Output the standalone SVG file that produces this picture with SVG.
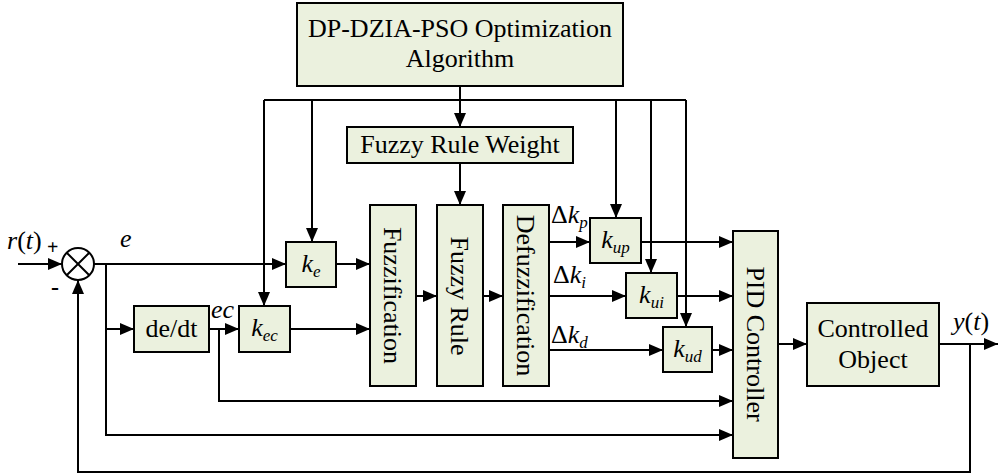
<svg xmlns="http://www.w3.org/2000/svg" width="998" height="476" viewBox="0 0 998 476">
<style>
.box{fill:#EBF1DE;stroke:#000;stroke-width:2}
.ln{fill:none;stroke:#000;stroke-width:2}
text{font-family:'Liberation Serif','Times New Roman',Tinos,'DejaVu Serif',serif;font-size:26px;fill:#000}
.i{font-style:italic}
.s{font-size:17px;font-style:italic}
</style>
<defs>
<marker id="ah" markerWidth="14" markerHeight="12" refX="14" refY="6" orient="auto" markerUnits="userSpaceOnUse">
<path d="M0,0 L14,6 L0,12 Z" fill="#000"/>
</marker>
</defs>
<g id="connectors">
<path class="ln" d="M460,86 V127" marker-end="url(#ah)"/>
<path class="ln" d="M264,100 H686"/>
<path class="ln" d="M312,100 V242" marker-end="url(#ah)"/>
<path class="ln" d="M264,100 V306" marker-end="url(#ah)"/>
<path class="ln" d="M460,163 V205" marker-end="url(#ah)"/>
<path class="ln" d="M616,100 V218" marker-end="url(#ah)"/>
<path class="ln" d="M651,100 V273" marker-end="url(#ah)"/>
<path class="ln" d="M686,100 V327" marker-end="url(#ah)"/>
<path class="ln" d="M18,264 H62" marker-end="url(#ah)"/>
<path class="ln" d="M94,264 H286" marker-end="url(#ah)"/>
<path class="ln" d="M106,264 V435 H733" marker-end="url(#ah)"/>
<path class="ln" d="M106,329 H134" marker-end="url(#ah)"/>
<path class="ln" d="M209,329 H239" marker-end="url(#ah)"/>
<path class="ln" d="M219,329 V401 H733" marker-end="url(#ah)"/>
<path class="ln" d="M336,264 H370" marker-end="url(#ah)"/>
<path class="ln" d="M290,329 H370" marker-end="url(#ah)"/>
<path class="ln" d="M416,296 H437" marker-end="url(#ah)"/>
<path class="ln" d="M483,296 H503" marker-end="url(#ah)"/>
<path class="ln" d="M549,242 H590" marker-end="url(#ah)"/>
<path class="ln" d="M549,296 H626" marker-end="url(#ah)"/>
<path class="ln" d="M549,350 H663" marker-end="url(#ah)"/>
<path class="ln" d="M641,242 H733" marker-end="url(#ah)"/>
<path class="ln" d="M677,296 H733" marker-end="url(#ah)"/>
<path class="ln" d="M712,350 H733" marker-end="url(#ah)"/>
<path class="ln" d="M778,344 H807" marker-end="url(#ah)"/>
<path class="ln" d="M939,344 H998" marker-end="url(#ah)"/>
<path class="ln" d="M970,344 V472 H78 V280" marker-end="url(#ah)"/>
</g>
<g id="sum">
<circle cx="78" cy="264" r="16" fill="#fff" stroke="#000" stroke-width="2"/>
<path class="ln" d="M66.7,252.7 L89.3,275.3 M89.3,252.7 L66.7,275.3"/>
<text x="47" y="254" style="font-size:20px;font-weight:bold">+</text>
<text x="51" y="295" style="font-size:24px;font-weight:bold">-</text>
</g>
<g id="opt">
<rect class="box" x="297" y="3" width="326" height="83"/>
<text x="460" y="37" text-anchor="middle">DP-DZIA-PSO Optimization</text>
<text x="460" y="67" text-anchor="middle">Algorithm</text>
</g>
<g id="weight">
<rect class="box" x="347" y="127" width="226" height="36"/>
<text x="460" y="153" text-anchor="middle">Fuzzy Rule Weight</text>
</g>
<g id="ke">
<rect class="box" x="286" y="242" width="50" height="45"/>
<text x="311" y="272" text-anchor="middle"><tspan class="i">k</tspan><tspan class="s" dy="5">e</tspan></text>
</g>
<g id="dedt">
<rect class="box" x="134" y="306" width="75" height="46"/>
<text x="171.5" y="337" text-anchor="middle">de/dt</text>
</g>
<g id="kec">
<rect class="box" x="239" y="306" width="51" height="46"/>
<text x="264.5" y="336" text-anchor="middle"><tspan class="i">k</tspan><tspan class="s" dy="5">ec</tspan></text>
</g>
<g id="fuzzification">
<rect class="box" x="370" y="205" width="46" height="181"/>
<text transform="translate(393,295.5) rotate(90)" x="0" y="9" text-anchor="middle">Fuzzification</text>
</g>
<g id="fuzzyrule">
<rect class="box" x="437" y="205" width="46" height="181"/>
<text transform="translate(460,296) rotate(90)" x="0" y="9" text-anchor="middle">Fuzzy Rule</text>
</g>
<g id="defuzzification">
<rect class="box" x="503" y="205" width="46" height="181"/>
<text transform="translate(526,295.5) rotate(90)" x="0" y="9" text-anchor="middle">Defuzzification</text>
</g>
<g id="kup">
<rect class="box" x="590" y="218" width="51" height="45"/>
<text x="615.5" y="248" text-anchor="middle"><tspan class="i">k</tspan><tspan class="s" dy="5">up</tspan></text>
</g>
<g id="kui">
<rect class="box" x="626" y="273" width="51" height="45"/>
<text x="651.5" y="303" text-anchor="middle"><tspan class="i">k</tspan><tspan class="s" dy="5">ui</tspan></text>
</g>
<g id="kud">
<rect class="box" x="663" y="327" width="49" height="45"/>
<text x="687.5" y="357" text-anchor="middle"><tspan class="i">k</tspan><tspan class="s" dy="5">ud</tspan></text>
</g>
<g id="pid">
<rect class="box" x="733" y="231" width="45" height="227"/>
<text transform="translate(755.5,344) rotate(90)" x="0" y="9" text-anchor="middle">PID Controller</text>
</g>
<g id="plant">
<rect class="box" x="807" y="303" width="132" height="83"/>
<text x="873" y="337" text-anchor="middle">Controlled</text>
<text x="873" y="368" text-anchor="middle">Object</text>
</g>
<g id="labels">
<text x="7" y="249"><tspan class="i">r</tspan>(<tspan class="i">t</tspan>)</text>
<text class="i" x="120" y="247">e</text>
<text class="i" x="211" y="318">ec</text>
<text x="551" y="223">Δ<tspan class="i">k</tspan><tspan class="s" dy="5">p</tspan></text>
<text x="553" y="283">Δ<tspan class="i">k</tspan><tspan class="s" dy="5">i</tspan></text>
<text x="551" y="343">Δ<tspan class="i">k</tspan><tspan class="s" dy="5">d</tspan></text>
<text x="953" y="330"><tspan class="i">y</tspan>(<tspan class="i">t</tspan>)</text>
</g>
</svg>
